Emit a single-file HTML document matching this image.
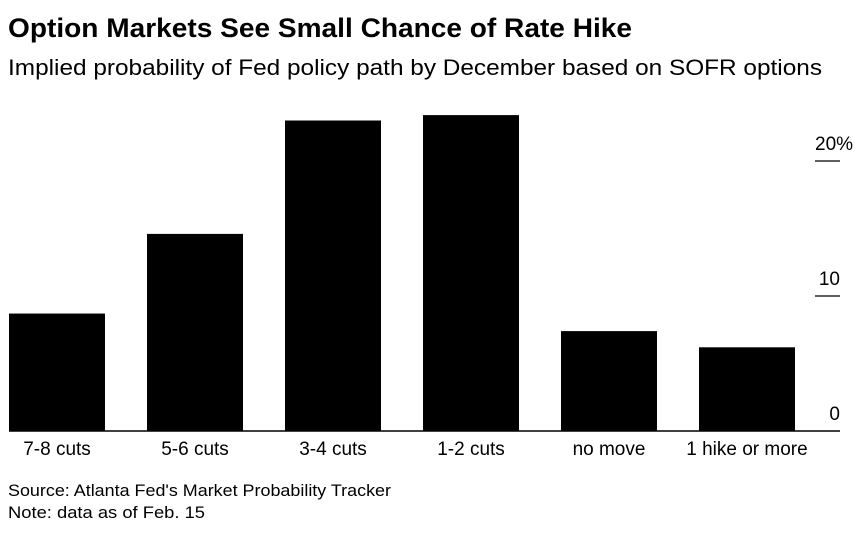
<!DOCTYPE html>
<html><head><meta charset="utf-8"><style>
body{margin:0;background:#fff;width:867px;height:534px;overflow:hidden;font-family:"Liberation Sans",Arial,sans-serif;}
</style></head><body>
<svg width="867" height="534" font-family="Liberation Sans, Arial, sans-serif">
<text x="8" y="37" font-size="27" font-weight="bold" fill="#000" textLength="624" lengthAdjust="spacingAndGlyphs">Option Markets See Small Chance of Rate Hike</text>
<text x="8" y="75" font-size="22.5" fill="#000" textLength="814" lengthAdjust="spacingAndGlyphs">Implied probability of Fed policy path by December based on SOFR options</text>
<g id="plot"></g>
<text x="8" y="496" font-size="16.5" fill="#000" textLength="383" lengthAdjust="spacingAndGlyphs">Source: Atlanta Fed's Market Probability Tracker</text>
<text x="8" y="518" font-size="16.5" fill="#000" textLength="197" lengthAdjust="spacingAndGlyphs">Note: data as of Feb. 15</text>
</svg>
<script>
const categories=["7-8 cuts","5-6 cuts","3-4 cuts","1-2 cuts","no move","1 hike or more"];
const values=[8.7,14.6,23.0,23.4,7.4,6.2];
const ticks=[0,10,20];
const tickLabels=["0","10","20%"];
const NS="http://www.w3.org/2000/svg";
const g=document.getElementById("plot");
const y0=431,pxPer=13.5;
function y(v){return y0-v*pxPer;}
function x(i){return 9+i*138;}
const bw=96;
function mk(t,a){const e=document.createElementNS(NS,t);for(const k in a)e.setAttribute(k,a[k]);g.appendChild(e);return e;}
values.forEach((v,i)=>{
 const r=mk("rect",{x:x(i),y:y(v),width:bw,height:y0-y(v),fill:"#000"});
 
 
 const t=mk("text",{x:x(i)+bw/2,y:455,"font-size":19,"text-anchor":"middle",fill:"#000"});
 t.textContent=categories[i];
 
 
});
ticks.forEach((v,i)=>{
 if(v!==0){const l=mk("line",{x1:815,x2:840,y1:y(v),y2:y(v),stroke:"#000","stroke-width":1.2});
 
 }
 const t=mk("text",{x:840,y:y(v)-11,"font-size":19,"text-anchor":v===20?"start":"end",fill:"#000"});
 if(v===20)t.setAttribute("x",815);
 t.textContent=tickLabels[i];
 
 
});
const base=mk("line",{x1:9,x2:840,y1:y0,y2:y0,stroke:"#000","stroke-width":1.5});


</script>
</body></html>
